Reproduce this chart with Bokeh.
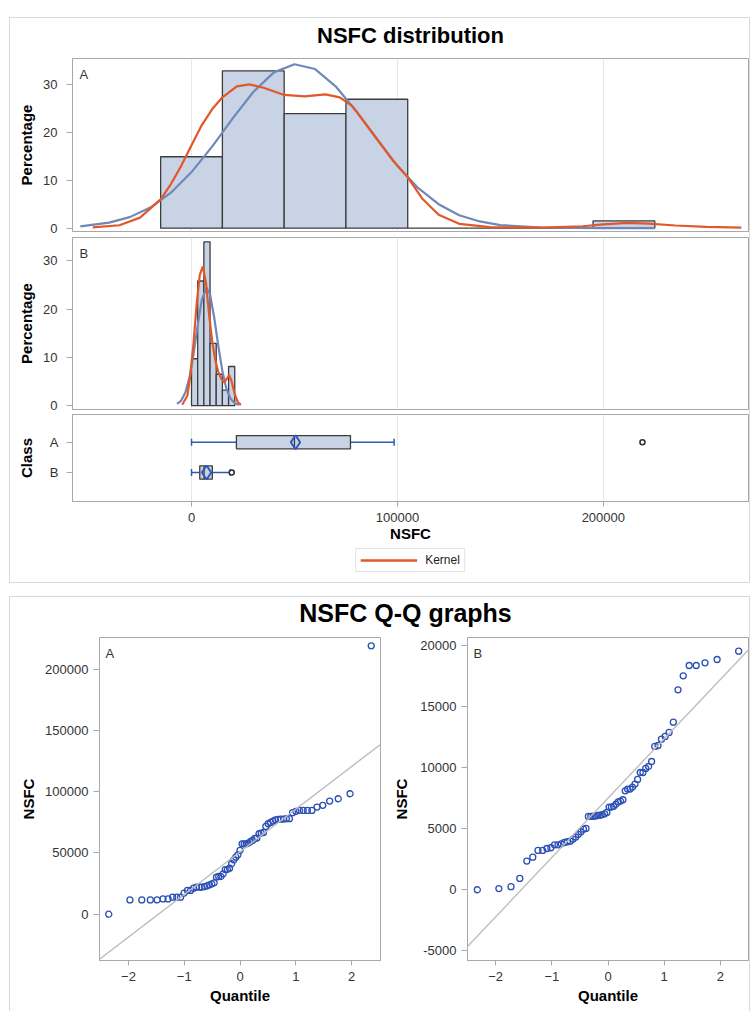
from statistics import NormalDist
from bokeh.plotting import figure
from bokeh.layouts import column, row
from bokeh.models import (Range1d, FixedTicker, Grid, Legend, LegendItem, Label,
                          Slope, Spacer, NumeralTickFormatter)
from bokeh.embed import file_html
from bokeh.resources import INLINE

# ----------------------------- data -----------------------------
classes = ["A", "B"]

hist_a_mid = [0, 30000, 60000, 90000, 120000, 150000, 180000, 210000]
hist_a_pct = [14.9, 32.8, 23.9, 26.9, 0, 0, 0, 1.5]
hist_a_width = 30000

hist_b_mid = [1500, 4500, 7500, 10500, 13500, 16500, 19500]
hist_b_pct = [9.7, 25.8, 33.9, 12.9, 6.5, 3.2, 8.1]
hist_b_width = 3000

normal_a_x = [-54000, -40000, -30000, -20000, -10000, 0, 10000, 20000, 30000, 40000,
              50000, 60000, 70000, 80000, 90000, 100000, 110000, 120000, 130000, 140000,
              150000, 170000, 200000, 225000]
normal_a_y = [0.37, 1.14, 2.3, 4.3, 7.4, 11.7, 17.0, 22.9, 28.4, 32.5,
              34.2, 33.2, 29.6, 24.4, 18.6, 13.0, 8.4, 5.0, 2.7, 1.4,
              0.64, 0.11, 0.01, 0.0]

kernel_a_x = [-48000, -35000, -25000, -15000, -10000, -5000, 0, 5000, 10000, 15000,
              22000, 28000, 35000, 45000, 55000, 65000, 72000, 78000, 88000, 98000,
              105000, 112000, 120000, 130000, 145000, 170000, 190000, 200000, 212000,
              222000, 235000, 250000, 267000]
kernel_a_y = [0.15, 0.6, 2.2, 6.0, 9.2, 13.0, 17.3, 21.5, 24.8, 27.3,
              29.6, 30.0, 29.3, 27.8, 27.5, 27.9, 27.3, 25.5, 19.8, 14.0,
              10.6, 6.2, 2.8, 0.9, 0.2, 0.1, 0.4, 0.8, 1.1,
              0.95, 0.55, 0.25, 0.12]

normal_b_x = [-7000, -5000, -3000, -1000, 1000, 3000, 5000, 7300, 9000, 11000,
              13000, 15000, 17000, 19000, 21000, 23000]
normal_b_y = [0.35, 1.04, 2.7, 5.8, 10.7, 16.6, 21.9, 24.4, 23.0, 18.3,
              12.4, 7.1, 3.4, 1.4, 0.49, 0.14]

kernel_b_x = [-4500, -2000, -500, 1000, 2500, 4000, 5500, 7000, 8500, 10000,
              11500, 13000, 14500, 16000, 17000, 18300, 19500, 21000, 22500, 24000]
kernel_b_y = [0.2, 2.1, 6.5, 13.0, 21.0, 27.0, 28.8, 25.5, 19.0, 13.5,
              9.5, 7.0, 5.5, 4.8, 5.5, 6.3, 5.0, 2.3, 0.7, 0.15]

box_q1 = [21800, 4000]
box_median = [50000, 6100]
box_q3 = [77200, 10100]
box_mean = [50500, 7300]
whisker_low = [0, 0]
whisker_high = [98400, 18850]
outlier_class = ["A", "B"]
outlier_value = [219000, 19530]

qq_a_values = [0, 11700, 11700, 11700, 11700, 12500, 12500, 13900, 13900, 13900,
               17200, 19400, 19400, 21300, 22100, 22100, 22100, 22600, 23200, 24000,
               24800, 25600, 30300, 30800, 30800, 33000, 36500, 36500, 37600, 41200,
               44400, 46600, 48500, 52100, 57500, 57500, 57500, 58100, 59200, 60200,
               61900, 62200, 65700, 66200, 66800, 71700, 73900, 75000, 76100, 77100,
               77400, 77700, 77700, 78000, 78000, 82900, 84000, 84800, 84800, 84800,
               84800, 87500, 88900, 92400, 94300, 98400, 219200]
qq_b_values = [0, 100, 250, 930, 2350, 2670, 3220, 3220, 3380, 3440,
               3680, 3680, 3760, 3870, 3930, 3980, 4150, 4310, 4530, 4750,
               4960, 5020, 6000, 6010, 6020, 6030, 6080, 6110, 6150, 6220,
               6330, 6770, 6770, 6820, 7000, 7200, 7260, 7370, 8100, 8240,
               8240, 8400, 8650, 9030, 9600, 9600, 9930, 10090, 10500, 11730,
               11810, 12330, 12550, 12880, 13720, 16370, 17510, 18360, 18360, 18580,
               18850, 19530]
qq_a_mu, qq_a_sigma = 51000, 34800
qq_b_mu, qq_b_sigma = 7500, 4860

nsfc_ticks = [0, 100000, 200000]
pct_ticks = [0, 10, 20, 30]
qq_x_ticks = [-2, -1, 0, 1, 2]
qq_a_y_ticks = [0, 50000, 100000, 150000, 200000]
qq_b_y_ticks = [-5000, 0, 5000, 10000, 15000, 20000]

title_top = "NSFC distribution"
title_bottom = "NSFC Q-Q graphs"

# ----------------------------- style -----------------------------
FONT = "Liberation Sans"
FRAME = "#a8a8a8"
BAR_FILL = "#c8d3e5"
BAR_LINE = "#3c3c3c"
NORMAL = "#6e88b8"
KERNEL = "#e2582a"
BOX_BLUE = "#3058b8"
QQ_BLUE = "#2a4fb5"
REF_LINE = "#bdbdbd"
GRID = "#e6e6e6"
CONTAINER = "#d9d9d9"
W = 739


def style_axis(ax, tick_out, standoff, label_standoff, size="13px"):
    ax.axis_line_color = FRAME
    ax.major_tick_line_color = FRAME
    ax.major_tick_out = tick_out
    ax.major_tick_in = 0
    ax.minor_tick_line_color = None
    ax.major_label_standoff = standoff
    ax.axis_label_standoff = label_standoff
    ax.major_label_text_font = FONT
    ax.major_label_text_font_size = size
    ax.major_label_text_color = "#333333"
    ax.axis_label_text_font = FONT
    ax.axis_label_text_font_size = "15px"
    ax.axis_label_text_font_style = "bold"
    ax.axis_label_text_color = "black"


def panel_label(p, text, dx, dy):
    p.add_layout(Label(x=p.x_range.start, y=p.y_range.end, x_offset=dx, y_offset=-dy,
                       text=text, text_baseline="top", text_font=FONT,
                       text_font_size="13px", text_color="#333333"))


def hide_grid(p):
    for g in p.grid:
        g.visible = False


def title_strip(text, height, size, center_from_top):
    p = figure(width=W, height=height, x_range=Range1d(0, 1), y_range=Range1d(0, height),
               x_axis_location=None, y_axis_location=None,
               toolbar_location=None, output_backend="svg",
               min_border_left=51, min_border_right=0,
               min_border_top=0, min_border_bottom=0)
    p.outline_line_color = None
    hide_grid(p)
    p.add_layout(Label(x=0.5, y=height - center_from_top, text=text,
                       text_align="center", text_baseline="middle",
                       text_font=FONT, text_font_size=size,
                       text_font_style="bold", text_color="black"))
    return p


x_range = Range1d(-57800, 270500)


def dist_fig(height, y_range, top, bottom, show_x=False):
    p = figure(width=W, height=height, x_range=x_range, y_range=y_range,
               toolbar_location=None, output_backend="svg",
               x_axis_location="below" if show_x else None,
               min_border_left=62, min_border_right=1,
               min_border_top=top, min_border_bottom=bottom)
    p.outline_line_color = FRAME
    p.outline_line_width = 1
    hide_grid(p)
    p.add_layout(Grid(dimension=0, ticker=FixedTicker(ticks=nsfc_ticks),
                      grid_line_color=GRID))
    return p


# ---- title of the distribution graph ----
figTitleTop = title_strip(title_top, 39, "22px", 17)

# ---- panel A ----
figA = dist_fig(179, Range1d(-0.7, 35.4), 1, 5)
figA.yaxis.ticker = FixedTicker(ticks=pct_ticks)
figA.yaxis.axis_label = "Percentage"
style_axis(figA.yaxis[0], 6, 9, 5)
figA.vbar(x=hist_a_mid, width=hist_a_width, top=hist_a_pct, bottom=0,
          fill_color=BAR_FILL, line_color=BAR_LINE, line_width=1.3)
figA.line(normal_a_x, normal_a_y, line_color=NORMAL, line_width=2.2)
figA.line(kernel_a_x, kernel_a_y, line_color=KERNEL, line_width=2.2)
panel_label(figA, "A", 7, 8)

# ---- panel B ----
figB = dist_fig(177, Range1d(-0.8, 34.8), 1, 4)
figB.yaxis.ticker = FixedTicker(ticks=pct_ticks)
figB.yaxis.axis_label = "Percentage"
style_axis(figB.yaxis[0], 6, 9, 5)
figB.vbar(x=hist_b_mid, width=hist_b_width, top=hist_b_pct, bottom=0,
          fill_color=BAR_FILL, line_color=BAR_LINE, line_width=1.3)
figB.line(normal_b_x, normal_b_y, line_color=NORMAL, line_width=2.2)
figB.line(kernel_b_x, kernel_b_y, line_color=KERNEL, line_width=2.2)
panel_label(figB, "B", 7, 8)

# ---- box plot ----
class_pos = {c: len(classes) - i for i, c in enumerate(classes)}
box_y = [class_pos[c] for c in classes]
out_y = [class_pos[c] for c in outlier_class]

figBox = dist_fig(133, Range1d(0.043, 2.914), 1, 45, show_x=True)
figBox.xaxis.ticker = FixedTicker(ticks=nsfc_ticks)
figBox.xaxis.formatter = NumeralTickFormatter(format="0")
figBox.xaxis.axis_label = "NSFC"
style_axis(figBox.xaxis[0], 5, 6, 0)
figBox.yaxis.ticker = FixedTicker(ticks=sorted(box_y))
figBox.yaxis.major_label_overrides = {class_pos[c]: c for c in classes}
figBox.yaxis.axis_label = "Class"
style_axis(figBox.yaxis[0], 6, 8, 12)

figBox.segment(x0=whisker_low, y0=box_y, x1=box_q1, y1=box_y, line_color=BOX_BLUE, line_width=1.5)
figBox.segment(x0=box_q3, y0=box_y, x1=whisker_high, y1=box_y, line_color=BOX_BLUE, line_width=1.5)
figBox.scatter(x=whisker_low, y=box_y, marker="dash", angle=1.5708, size=7,
               line_color=BOX_BLUE, line_width=1.5)
figBox.scatter(x=whisker_high, y=box_y, marker="dash", angle=1.5708, size=7,
               line_color=BOX_BLUE, line_width=1.5)
figBox.hbar(y=box_y, left=box_q1, right=box_q3, height=0.44,
            fill_color=BAR_FILL, line_color=BAR_LINE, line_width=1.3)
figBox.scatter(x=box_median, y=box_y, marker="dash", angle=1.5708, size=13,
               line_color=BAR_LINE, line_width=1.3)
figBox.scatter(x=box_mean, y=box_y, marker="diamond", size=14,
               fill_color=None, line_color=BOX_BLUE, line_width=2)
figBox.scatter(x=outlier_value, y=out_y, marker="circle", size=5,
               fill_color="white", line_color="#333333", line_width=1.6)

# ---- legend strip ----
figLeg = figure(width=W, height=36, toolbar_location=None, output_backend="svg",
                x_range=Range1d(0, 1), y_range=Range1d(0, 1),
                x_axis_location=None, y_axis_location=None,
                min_border_left=62, min_border_right=1,
                min_border_top=0, min_border_bottom=9)
figLeg.outline_line_color = None
hide_grid(figLeg)
kernel_key = figLeg.line(x=[0, 1], y=[-10, -10], line_color=KERNEL, line_width=2.5)
legend = Legend(items=[LegendItem(label="Kernel", renderers=[kernel_key])],
                orientation="horizontal", location="center",
                border_line_color="#c8c8c8", border_line_width=1,
                label_text_font=FONT, label_text_font_size="12px",
                label_text_color="#222222",
                glyph_width=57, glyph_height=14, label_height=14,
                label_standoff=8, padding=4, margin=0, spacing=0)
figLeg.add_layout(legend)

# ---- Q-Q plots ----
nd = NormalDist()


def normal_scores(n):
    return [nd.inv_cdf((i - 0.375) / (n + 0.25)) for i in range(1, n + 1)]


def qq_fig(width, left, right, x_rng, y_rng, values, mu, sigma, y_ticks, label,
           tick_standoff, label_standoff):
    p = figure(width=width, height=376, x_range=x_rng, y_range=y_rng,
               toolbar_location=None, output_backend="svg",
               min_border_left=left, min_border_right=right,
               min_border_top=2, min_border_bottom=51)
    p.outline_line_color = FRAME
    hide_grid(p)
    p.xaxis.ticker = FixedTicker(ticks=qq_x_ticks)
    p.xaxis.axis_label = "Quantile"
    style_axis(p.xaxis[0], 5, 6, 3)
    p.yaxis.ticker = FixedTicker(ticks=y_ticks)
    p.yaxis.formatter = NumeralTickFormatter(format="0")
    p.yaxis.axis_label = "NSFC"
    style_axis(p.yaxis[0], 6, tick_standoff, label_standoff)
    p.add_layout(Slope(gradient=sigma, y_intercept=mu, line_color=REF_LINE, line_width=1.4))
    vals = sorted(values)
    p.scatter(normal_scores(len(vals)), vals, marker="circle", size=6,
              fill_color=None, line_color=QQ_BLUE, line_width=1.3)
    panel_label(p, label, 6, 8)
    return p


qqA = qq_fig(380, 89, 10, Range1d(-2.52, 2.52), Range1d(-37800, 226000),
             qq_a_values, qq_a_mu, qq_a_sigma, qq_a_y_ticks, "A", 5, 5)
qqB = qq_fig(359, 72, 1, Range1d(-2.5, 2.5), Range1d(-5790, 20650),
             qq_b_values, qq_b_mu, qq_b_sigma, qq_b_y_ticks, "B", 5, 7)

figTitleBottom = title_strip(title_bottom, 38, "25px", 15)

top = column(figTitleTop, figA, figB, figBox, figLeg,
             styles={"border": f"1px solid {CONTAINER}"})
bottom = column(figTitleBottom, row(qqA, qqB),
                styles={"border": f"1px solid {CONTAINER}", "border-bottom": "none"})
page = row(Spacer(width=9), column(Spacer(height=17), top, Spacer(height=13), bottom))

open("out.html", "w").write(file_html(page, INLINE))
